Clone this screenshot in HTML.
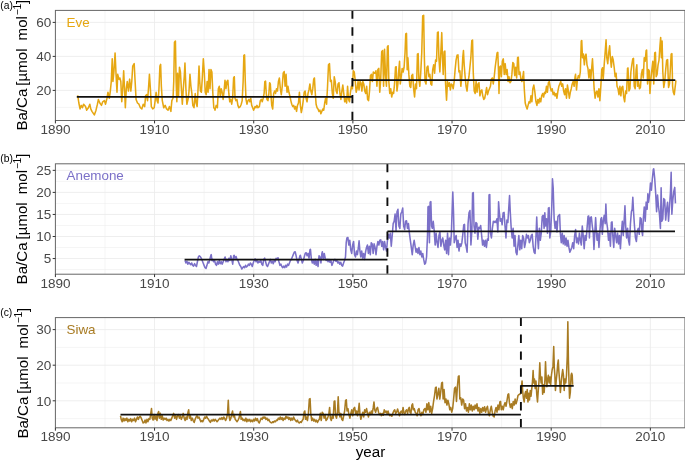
<!DOCTYPE html>
<html><head><meta charset="utf-8"><title>Ba/Ca</title>
<style>html,body{margin:0;padding:0;background:#fff;overflow:hidden}svg{display:block}</style></head>
<body>
<svg width="685" height="461" viewBox="0 0 685 461" font-family="Liberation Sans, Arial, sans-serif">
<rect width="685" height="461" fill="#fff"/>
<clipPath id="cp0"><rect x="55.4" y="10.4" width="629.1" height="110.1"/></clipPath>
<g clip-path="url(#cp0)">
<line x1="55.4" x2="684.5" y1="107.40" y2="107.40" stroke="#ededed" stroke-width="0.55"/>
<line x1="55.4" x2="684.5" y1="73.40" y2="73.40" stroke="#ededed" stroke-width="0.55"/>
<line x1="55.4" x2="684.5" y1="39.40" y2="39.40" stroke="#ededed" stroke-width="0.55"/>
<line x1="104.98" x2="104.98" y1="10.4" y2="120.5" stroke="#ededed" stroke-width="0.55"/>
<line x1="204.14" x2="204.14" y1="10.4" y2="120.5" stroke="#ededed" stroke-width="0.55"/>
<line x1="303.30" x2="303.30" y1="10.4" y2="120.5" stroke="#ededed" stroke-width="0.55"/>
<line x1="402.46" x2="402.46" y1="10.4" y2="120.5" stroke="#ededed" stroke-width="0.55"/>
<line x1="501.62" x2="501.62" y1="10.4" y2="120.5" stroke="#ededed" stroke-width="0.55"/>
<line x1="600.78" x2="600.78" y1="10.4" y2="120.5" stroke="#ededed" stroke-width="0.55"/>
<line x1="55.4" x2="684.5" y1="90.40" y2="90.40" stroke="#ebebeb" stroke-width="0.85"/>
<line x1="55.4" x2="684.5" y1="56.40" y2="56.40" stroke="#ebebeb" stroke-width="0.85"/>
<line x1="55.4" x2="684.5" y1="22.40" y2="22.40" stroke="#ebebeb" stroke-width="0.85"/>
<line x1="55.40" x2="55.40" y1="10.4" y2="120.5" stroke="#ebebeb" stroke-width="0.85"/>
<line x1="154.56" x2="154.56" y1="10.4" y2="120.5" stroke="#ebebeb" stroke-width="0.85"/>
<line x1="253.72" x2="253.72" y1="10.4" y2="120.5" stroke="#ebebeb" stroke-width="0.85"/>
<line x1="352.88" x2="352.88" y1="10.4" y2="120.5" stroke="#ebebeb" stroke-width="0.85"/>
<line x1="452.04" x2="452.04" y1="10.4" y2="120.5" stroke="#ebebeb" stroke-width="0.85"/>
<line x1="551.20" x2="551.20" y1="10.4" y2="120.5" stroke="#ebebeb" stroke-width="0.85"/>
<line x1="650.36" x2="650.36" y1="10.4" y2="120.5" stroke="#ebebeb" stroke-width="0.85"/>
<polyline points="77.65,95.37 78.13,98.23 78.85,103.0 80.04,108.96 81.23,105.38 82.42,107.76 83.61,104.19 85.52,106.57 86.71,110.15 88.38,107.76 89.81,104.19 90.77,108.96 91.96,111.34 94.34,114.92 96.01,110.15 97.44,104.19 98.4,99.42 99.83,103.0 101.5,105.38 102.69,101.8 104.36,100.61 105.55,104.19 106.98,98.23 107.94,92.27 109.37,98.23 110.32,91.07 111.27,81.54 112.23,58.88 112.94,81.54 113.9,72.0 115.09,52.92 116.04,74.38 117.0,92.27 117.71,74.38 118.9,79.15 119.86,77.96 120.81,81.54 121.77,101.8 122.72,88.69 123.67,70.8 124.63,91.07 125.34,107.76 126.3,88.69 127.25,81.54 128.44,91.07 129.63,79.15 130.83,91.07 131.78,81.54 132.73,66.04 134.17,63.65 135.12,81.54 136.07,99.42 137.5,103.0 138.93,104.19 140.37,107.76 141.8,108.96 143.23,104.19 144.66,106.57 145.61,95.84 146.56,94.65 147.52,100.61 148.47,88.69 149.43,74.38 150.38,88.69 151.33,106.57 152.76,108.96 154.2,107.76 155.15,100.61 156.1,92.27 157.06,100.61 158.01,103.0 158.96,88.69 159.92,66.04 160.63,64.37 161.35,86.3 162.3,100.61 163.73,107.76 165.16,105.38 166.59,108.96 168.03,110.15 169.46,106.57 170.89,111.34 171.84,100.61 173.03,98.23 173.75,81.54 174.46,42.19 175.42,41.0 176.13,81.54 176.85,101.8 177.56,73.19 178.52,95.84 179.47,67.23 180.42,72.0 181.38,88.69 182.33,104.19 183.29,88.69 184.24,76.77 184.96,62.94 185.91,88.69 186.86,104.19 188.06,99.42 189.01,91.07 189.96,74.38 190.92,86.3 191.87,93.46 192.82,105.38 194.02,107.76 195.21,93.46 196.16,103.0 197.12,106.57 198.07,88.69 199.02,66.04 199.74,81.54 200.45,91.07 201.41,92.27 202.36,76.77 203.32,58.88 204.27,72.0 205.22,92.27 206.18,94.65 207.13,81.54 208.08,92.27 209.04,69.61 209.99,88.69 210.95,69.61 211.9,72.0 212.85,93.46 213.81,107.76 214.76,108.96 215.0,110.15 216.19,105.38 217.38,107.76 218.34,88.69 219.29,86.3 220.25,95.84 221.2,88.69 222.15,92.27 223.11,99.42 224.06,91.07 225.01,80.34 225.97,88.69 226.92,81.54 227.88,80.34 228.83,93.46 229.78,101.8 230.74,99.42 231.69,104.19 232.65,98.23 233.6,77.96 234.31,76.77 235.03,98.23 235.98,100.61 236.94,99.42 237.89,105.38 238.85,107.76 240.28,106.57 241.23,104.19 242.18,100.61 243.14,81.54 243.85,55.31 244.57,54.83 245.28,81.54 246.0,99.42 246.95,104.19 247.91,100.61 248.86,99.42 249.81,101.8 250.77,98.23 251.72,105.38 252.68,107.76 253.63,110.15 255.06,106.57 256.01,107.76 256.97,105.38 257.92,107.76 259.35,106.57 260.31,100.61 261.26,99.42 262.21,101.8 263.17,98.23 264.12,93.46 264.84,81.54 265.55,81.06 266.27,93.46 266.98,99.42 267.94,100.61 268.89,93.46 269.61,82.73 270.32,83.92 271.04,95.84 271.75,105.38 272.7,108.96 273.66,93.46 274.61,91.07 275.57,93.46 276.52,88.69 277.47,91.07 278.43,81.54 279.38,77.96 280.34,88.69 281.29,94.65 282.24,86.3 283.2,73.19 284.15,71.52 285.1,86.3 286.06,74.38 287.01,92.27 287.97,86.3 288.92,92.27 289.87,95.84 290.83,100.61 291.78,104.19 292.73,106.57 293.69,105.38 294.64,108.96 295.6,106.57 296.55,111.34 297.5,105.38 298.46,103.0 299.41,92.27 300.37,105.38 301.32,112.53 302.27,107.76 303.23,100.61 304.18,92.27 305.13,91.07 306.09,98.23 307.04,101.8 308.0,93.46 308.95,89.88 309.9,83.92 310.86,91.07 311.81,94.65 312.76,88.69 313.72,79.15 314.43,77.96 315.15,91.07 316.1,104.19 317.06,107.76 318.01,108.96 318.96,111.34 319.92,110.15 320.87,113.73 321.83,111.34 322.78,108.96 323.73,110.15 324.69,103.0 325.64,98.23 326.59,104.19 327.55,86.3 328.5,64.84 329.46,63.65 330.41,81.54 331.36,80.34 332.32,93.46 333.27,98.23 334.23,76.77 335.18,81.54 336.13,91.07 337.09,93.46 338.04,83.92 338.99,82.73 339.95,93.46 340.9,99.42 341.86,91.07 342.81,85.11 343.76,93.46 344.72,101.8 345.67,98.23 346.62,103.0 347.58,86.3 348.53,99.42 349.49,101.8 350.44,92.27 351.39,86.3 352.35,88.69 353.3,70.8 354.25,72.0 355.21,80.34 356.16,92.27 357.12,88.69 358.07,81.54 359.02,89.88 359.98,81.54 360.93,82.73 361.89,91.07 362.84,81.54 363.79,83.92 364.75,91.07 365.7,93.46 366.65,86.3 367.61,99.42 368.56,100.61 369.52,91.07 370.47,75.57 371.42,74.38 372.38,81.54 373.33,72.0 374.28,73.19 375.0,73.19 375.95,70.8 376.91,86.3 377.86,69.61 378.82,68.42 379.77,92.27 380.72,79.15 381.68,51.73 382.63,50.54 383.58,86.3 384.54,49.34 385.49,74.38 386.45,86.3 387.4,46.96 388.11,45.77 388.83,81.54 389.78,93.46 390.74,88.69 391.69,97.03 392.65,92.27 393.6,93.46 394.55,83.92 395.51,67.23 396.22,66.75 396.94,91.07 397.89,83.92 398.85,69.61 399.56,61.27 400.28,83.92 401.23,76.77 402.18,68.42 403.14,72.0 404.09,67.23 405.04,52.92 405.76,33.85 406.48,33.37 407.19,69.61 407.91,57.69 408.86,74.38 409.81,86.3 410.77,87.5 411.72,75.57 412.68,74.38 413.63,88.69 414.58,97.03 415.54,83.92 416.49,88.69 417.44,54.11 418.16,53.64 418.87,79.15 419.83,86.3 420.78,72.0 421.74,52.92 422.69,15.96 423.64,15.25 424.36,57.69 425.07,81.54 426.03,83.92 426.98,67.23 427.94,66.04 428.89,76.77 429.84,74.38 430.8,83.92 431.75,85.11 432.7,69.61 433.66,64.84 434.61,73.19 435.57,60.07 436.52,61.27 437.47,32.65 438.19,31.94 438.9,57.69 439.86,72.0 440.81,52.92 441.77,32.65 442.48,57.69 443.2,74.38 444.15,51.73 444.87,51.01 445.58,83.92 446.54,100.13 447.49,81.54 448.44,86.3 449.4,82.73 450.35,89.88 451.3,83.92 452.26,85.11 453.21,88.69 454.17,81.54 455.12,69.61 456.07,60.07 457.03,55.31 457.98,54.83 458.93,72.0 459.89,70.8 460.84,86.3 461.8,76.77 462.75,57.69 463.46,50.54 464.18,64.84 465.13,76.77 466.09,86.3 467.04,91.07 468.0,81.54 468.95,76.77 469.9,67.23 470.86,57.69 471.81,40.52 472.53,40.04 473.24,72.0 474.2,91.07 475.15,93.46 476.1,81.54 477.06,92.27 478.01,83.92 478.96,82.73 479.92,95.84 480.87,91.07 481.83,89.88 482.78,95.84 483.73,99.42 484.69,98.23 485.64,93.46 486.59,87.5 487.55,94.65 488.5,91.07 489.46,88.69 490.41,86.3 491.36,79.15 492.32,77.96 493.27,83.92 494.23,76.77 495.18,67.23 496.13,60.07 497.09,52.92 497.8,52.44 498.52,72.0 498.99,93.46 499.71,67.23 500.42,66.04 501.38,76.77 502.33,61.27 503.29,58.88 504.24,74.38 505.19,63.65 506.15,74.38 507.1,69.61 508.06,81.54 509.01,76.77 509.96,82.73 510.92,81.54 511.87,74.38 512.82,62.46 513.78,63.65 514.73,75.57 515.69,67.23 516.64,77.96 517.59,57.69 518.31,57.21 519.02,74.38 519.98,72.0 520.93,79.15 521.89,81.54 522.84,76.77 523.55,71.52 524.27,88.69 525.22,103.0 526.18,106.57 527.13,108.96 528.08,105.38 529.04,101.8 529.99,103.0 530.95,95.84 531.9,101.8 532.85,88.69 533.81,85.11 534.76,91.07 535.97,101.8 536.92,105.38 537.88,99.42 538.83,103.0 539.78,98.23 540.74,101.8 541.69,95.84 542.65,93.46 543.6,97.03 544.55,92.27 545.51,93.46 546.46,86.3 547.41,92.27 548.37,82.73 549.32,81.54 550.28,87.5 551.23,91.07 552.18,88.69 553.14,94.65 554.09,92.27 555.04,95.84 556.0,93.46 556.95,98.23 557.91,91.07 558.86,86.3 559.81,83.92 560.77,81.54 561.72,86.3 562.68,83.92 563.63,91.07 564.58,94.65 565.54,88.69 566.49,98.23 567.44,85.11 568.4,91.07 569.35,98.23 570.31,92.27 571.26,88.69 572.21,83.92 573.17,81.54 574.12,86.3 575.07,76.77 575.55,74.38 576.51,89.88 577.46,79.15 578.41,75.57 579.37,77.96 580.32,72.0 581.27,41.0 581.75,40.52 582.47,57.69 583.42,54.11 584.37,64.84 585.09,56.5 586.04,54.11 587.0,64.84 587.95,68.42 588.9,77.96 589.86,69.61 590.81,79.15 591.77,67.23 592.48,58.88 593.2,72.0 594.15,88.69 595.1,98.23 596.06,92.27 597.01,91.07 597.97,97.03 598.92,88.69 599.87,100.61 600.83,86.3 601.78,69.61 602.5,67.7 603.21,79.15 604.17,64.84 605.12,52.92 606.07,39.81 606.79,57.69 607.74,63.65 608.7,52.92 609.65,45.77 610.37,57.69 611.32,67.23 612.27,56.5 613.23,60.07 614.18,67.23 615.13,76.77 616.09,73.19 617.04,86.3 618.0,88.69 618.95,94.65 619.9,86.3 620.86,95.84 621.81,87.5 622.76,86.3 623.72,97.03 624.67,101.8 625.63,91.07 626.58,93.46 627.53,68.42 628.01,67.94 628.96,91.07 629.92,88.69 630.87,72.0 631.83,64.84 632.78,58.88 633.49,58.41 634.21,86.3 635.16,88.69 636.12,69.61 636.83,64.84 637.55,86.3 638.5,81.54 639.46,88.69 640.41,87.5 641.36,74.38 642.32,69.61 643.27,77.96 644.23,57.69 645.18,61.27 646.13,50.54 646.61,50.06 647.56,83.92 648.52,69.61 649.23,70.8 649.95,93.46 650.9,79.15 651.86,69.61 652.81,61.27 653.76,83.92 654.72,52.92 655.43,52.44 656.15,76.77 657.1,74.38 658.06,64.84 659.01,60.07 659.96,45.77 660.68,37.42 661.39,57.69 662.11,41.0 662.82,72.0 663.78,87.5 664.73,81.54 665.69,69.61 666.64,60.07 667.59,59.6 668.55,87.5 669.5,83.92 670.45,67.23 671.17,54.11 671.89,53.64 672.6,86.3 673.32,92.27 674.27,94.65 675.22,86.3 675.94,80.34" fill="none" stroke="#E6A712" stroke-width="1.55" stroke-linejoin="round" stroke-linecap="butt"/>
<line x1="76.8" x2="352.4" y1="96.95" y2="96.95" stroke="#111" stroke-width="1.75"/>
<line x1="352.4" x2="675.3" y1="80.2" y2="80.2" stroke="#111" stroke-width="1.75"/>
<line x1="352.4" x2="352.4" y1="10.4" y2="120.5" stroke="#0d0d0d" stroke-width="1.9" stroke-dasharray="8.45 8.45"/>
</g>
<rect x="55.4" y="10.4" width="629.55" height="110.10" fill="none" stroke="#666" stroke-width="1"/>
<line x1="52.70" x2="55.4" y1="90.40" y2="90.40" stroke="#333" stroke-width="1"/>
<text x="51.30" y="95.25" font-size="13.5px" fill="#474747" text-anchor="end">20</text>
<line x1="52.70" x2="55.4" y1="56.40" y2="56.40" stroke="#333" stroke-width="1"/>
<text x="51.30" y="61.25" font-size="13.5px" fill="#474747" text-anchor="end">40</text>
<line x1="52.70" x2="55.4" y1="22.40" y2="22.40" stroke="#333" stroke-width="1"/>
<text x="51.30" y="27.25" font-size="13.5px" fill="#474747" text-anchor="end">60</text>
<line x1="55.40" x2="55.40" y1="120.5" y2="123.4" stroke="#333" stroke-width="1"/>
<text x="55.40" y="133.90" font-size="13.5px" fill="#474747" text-anchor="middle">1890</text>
<line x1="154.56" x2="154.56" y1="120.5" y2="123.4" stroke="#333" stroke-width="1"/>
<text x="154.56" y="133.90" font-size="13.5px" fill="#474747" text-anchor="middle">1910</text>
<line x1="253.72" x2="253.72" y1="120.5" y2="123.4" stroke="#333" stroke-width="1"/>
<text x="253.72" y="133.90" font-size="13.5px" fill="#474747" text-anchor="middle">1930</text>
<line x1="352.88" x2="352.88" y1="120.5" y2="123.4" stroke="#333" stroke-width="1"/>
<text x="352.88" y="133.90" font-size="13.5px" fill="#474747" text-anchor="middle">1950</text>
<line x1="452.04" x2="452.04" y1="120.5" y2="123.4" stroke="#333" stroke-width="1"/>
<text x="452.04" y="133.90" font-size="13.5px" fill="#474747" text-anchor="middle">1970</text>
<line x1="551.20" x2="551.20" y1="120.5" y2="123.4" stroke="#333" stroke-width="1"/>
<text x="551.20" y="133.90" font-size="13.5px" fill="#474747" text-anchor="middle">1990</text>
<line x1="650.36" x2="650.36" y1="120.5" y2="123.4" stroke="#333" stroke-width="1"/>
<text x="650.36" y="133.90" font-size="13.5px" fill="#474747" text-anchor="middle">2010</text>
<text x="66.5" y="26.90" font-size="13.4px" fill="#E6A712">Eve</text>
<text x="0.3" y="8.90" font-size="10.3px" fill="#000">(a)</text>
<g transform="translate(27.10,130.60) rotate(-90)" font-size="15.1px" fill="#000"><text x="0" y="0">Ba/Ca</text><text x="44.9" y="0">[µmol</text><text x="90.2" y="0">mol</text><text x="115.4" y="-5.8" font-size="10.3px">−</text><text x="121" y="-5.8" font-size="10.3px">1</text><text x="126.6" y="0">]</text></g>
<clipPath id="cp1"><rect x="55.4" y="163.8" width="629.1" height="110.39999999999998"/></clipPath>
<g clip-path="url(#cp1)">
<line x1="55.4" x2="684.5" y1="269.58" y2="269.58" stroke="#ededed" stroke-width="0.55"/>
<line x1="55.4" x2="684.5" y1="247.53" y2="247.53" stroke="#ededed" stroke-width="0.55"/>
<line x1="55.4" x2="684.5" y1="225.48" y2="225.48" stroke="#ededed" stroke-width="0.55"/>
<line x1="55.4" x2="684.5" y1="203.43" y2="203.43" stroke="#ededed" stroke-width="0.55"/>
<line x1="55.4" x2="684.5" y1="181.38" y2="181.38" stroke="#ededed" stroke-width="0.55"/>
<line x1="104.98" x2="104.98" y1="163.8" y2="274.2" stroke="#ededed" stroke-width="0.55"/>
<line x1="204.14" x2="204.14" y1="163.8" y2="274.2" stroke="#ededed" stroke-width="0.55"/>
<line x1="303.30" x2="303.30" y1="163.8" y2="274.2" stroke="#ededed" stroke-width="0.55"/>
<line x1="402.46" x2="402.46" y1="163.8" y2="274.2" stroke="#ededed" stroke-width="0.55"/>
<line x1="501.62" x2="501.62" y1="163.8" y2="274.2" stroke="#ededed" stroke-width="0.55"/>
<line x1="600.78" x2="600.78" y1="163.8" y2="274.2" stroke="#ededed" stroke-width="0.55"/>
<line x1="55.4" x2="684.5" y1="258.55" y2="258.55" stroke="#ebebeb" stroke-width="0.85"/>
<line x1="55.4" x2="684.5" y1="236.50" y2="236.50" stroke="#ebebeb" stroke-width="0.85"/>
<line x1="55.4" x2="684.5" y1="214.45" y2="214.45" stroke="#ebebeb" stroke-width="0.85"/>
<line x1="55.4" x2="684.5" y1="192.40" y2="192.40" stroke="#ebebeb" stroke-width="0.85"/>
<line x1="55.4" x2="684.5" y1="170.35" y2="170.35" stroke="#ebebeb" stroke-width="0.85"/>
<line x1="55.40" x2="55.40" y1="163.8" y2="274.2" stroke="#ebebeb" stroke-width="0.85"/>
<line x1="154.56" x2="154.56" y1="163.8" y2="274.2" stroke="#ebebeb" stroke-width="0.85"/>
<line x1="253.72" x2="253.72" y1="163.8" y2="274.2" stroke="#ebebeb" stroke-width="0.85"/>
<line x1="352.88" x2="352.88" y1="163.8" y2="274.2" stroke="#ebebeb" stroke-width="0.85"/>
<line x1="452.04" x2="452.04" y1="163.8" y2="274.2" stroke="#ebebeb" stroke-width="0.85"/>
<line x1="551.20" x2="551.20" y1="163.8" y2="274.2" stroke="#ebebeb" stroke-width="0.85"/>
<line x1="650.36" x2="650.36" y1="163.8" y2="274.2" stroke="#ebebeb" stroke-width="0.85"/>
<polyline points="185.01,260.57 185.97,262.96 186.92,261.29 187.88,264.15 188.83,262.24 189.78,263.67 190.74,264.63 191.69,262.96 192.65,265.34 193.6,266.06 194.55,263.67 195.51,265.34 196.46,266.53 197.41,261.76 198.37,257.0 199.32,255.8 200.28,256.52 201.23,258.19 202.18,260.57 203.14,262.96 204.09,265.34 205.04,267.73 206.0,268.44 206.95,265.34 207.91,261.76 208.86,262.96 209.81,259.38 210.77,255.8 211.24,254.61 211.96,260.57 212.68,259.38 213.63,261.76 214.58,260.57 215.54,264.15 216.49,265.34 217.44,261.76 218.4,264.15 219.35,260.57 220.31,263.67 221.26,261.76 222.21,264.15 223.17,261.76 224.12,259.38 225.07,257.0 226.03,261.76 226.98,259.38 227.94,261.76 228.89,258.19 229.84,260.57 230.8,255.8 231.75,259.38 232.7,264.15 233.66,255.8 234.14,255.33 235.09,258.19 236.04,256.52 237.0,259.38 237.95,260.57 238.9,262.96 239.86,265.34 240.81,266.53 241.77,268.92 242.72,267.73 243.67,266.53 244.63,267.73 245.58,265.34 246.54,267.01 247.49,266.06 248.44,264.15 249.4,265.34 250.35,262.96 251.3,264.15 252.26,266.53 253.21,262.96 254.17,260.57 255.12,258.9 256.07,261.76 257.03,260.57 257.98,262.96 258.93,261.29 259.89,262.24 260.84,260.57 261.8,264.15 262.75,265.34 263.7,259.38 264.66,258.19 265.61,261.76 266.56,265.34 267.52,266.53 268.47,264.15 269.43,261.76 270.38,259.38 271.33,262.96 272.29,261.29 273.24,263.67 274.2,260.57 275.15,261.76 276.1,258.19 277.06,259.38 278.01,257.71 278.96,261.76 279.92,265.34 280.87,264.15 281.83,266.53 282.78,267.73 283.73,266.06 284.69,267.73 285.64,265.34 286.59,267.01 287.55,264.15 288.5,265.34 289.46,262.96 290.41,260.57 291.36,259.38 292.32,257.0 293.27,254.61 294.23,252.23 295.18,251.75 296.13,255.8 297.09,260.57 298.04,262.96 298.99,259.38 299.95,255.8 300.42,255.33 301.38,259.38 302.33,262.96 303.29,260.57 304.24,257.0 305.19,253.42 306.15,252.7 307.1,255.8 308.06,253.42 309.01,258.19 309.96,249.84 310.44,249.37 311.39,259.38 312.35,262.96 313.3,260.57 314.25,264.15 315.21,259.38 316.16,265.34 317.12,260.57 318.07,266.53 319.02,255.8 319.98,257.0 320.93,262.96 321.89,253.42 322.36,251.75 323.32,259.38 324.27,253.42 325.22,258.19 326.18,260.57 327.13,259.38 328.08,261.76 329.04,259.38 329.99,262.24 330.95,260.57 331.9,265.34 332.85,262.96 333.81,260.57 334.76,259.38 335.0,259.38 335.95,261.29 336.91,260.57 337.86,262.96 338.82,261.76 339.77,264.15 340.72,262.24 341.68,265.34 342.63,266.06 343.58,262.96 344.54,260.57 345.49,257.0 346.21,242.69 346.92,237.92 347.88,237.44 348.83,245.07 349.78,240.3 350.74,249.84 351.69,253.42 352.65,245.07 353.6,241.5 354.55,254.61 355.51,257.0 356.46,251.03 357.41,254.61 358.37,247.46 359.08,240.78 359.8,249.84 360.75,257.0 361.71,251.03 362.66,258.19 363.61,253.42 364.57,259.38 365.52,252.23 366.48,247.46 367.43,245.07 368.38,253.42 369.34,246.27 370.29,254.61 371.24,242.69 372.2,243.88 373.15,253.42 374.11,243.88 375.06,247.46 376.01,254.61 376.97,246.27 377.92,241.5 378.87,245.07 379.83,240.3 380.78,239.83 381.74,246.27 382.69,241.5 383.64,249.84 384.6,241.5 385.55,247.46 386.51,251.03 387.46,240.3 388.41,234.34 389.37,237.92 390.32,233.15 391.27,246.27 392.23,235.54 393.18,223.61 394.14,221.23 395.09,214.07 396.04,230.77 397.0,211.69 397.95,209.31 398.9,226.0 399.86,228.38 400.81,214.07 401.77,211.69 402.72,208.11 403.67,226.0 404.63,229.57 405.58,221.23 406.54,220.75 407.49,228.38 408.44,223.61 409.4,233.15 410.35,240.3 411.3,247.46 412.26,254.61 413.21,245.07 414.17,240.3 415.12,246.27 416.07,252.23 417.03,248.65 417.98,253.42 418.93,247.46 419.89,254.61 420.84,251.03 421.8,257.0 422.75,253.42 423.7,259.38 424.66,264.15 425.61,262.96 426.56,257.0 427.52,235.54 428.0,206.92 428.71,206.44 429.43,242.69 430.14,202.15 430.86,201.68 431.57,226.0 432.29,228.38 433.24,221.23 434.2,230.77 435.15,245.07 436.1,233.15 437.06,242.69 438.01,247.46 438.96,235.54 439.92,231.96 440.87,246.27 441.83,240.3 442.78,237.92 443.73,245.07 444.69,249.84 445.64,240.3 446.59,253.42 447.55,233.15 448.5,254.61 449.46,237.92 450.41,245.07 451.36,234.34 452.08,211.69 452.79,192.14 453.51,211.69 454.23,242.69 455.18,237.92 456.13,235.54 457.09,247.46 458.04,240.3 458.99,251.03 459.95,243.88 460.9,246.27 461.86,242.69 462.81,234.34 463.76,224.8 464.48,224.33 465.19,242.69 466.15,246.27 467.1,252.23 468.06,223.61 469.01,212.88 469.96,210.5 470.92,245.07 471.87,230.77 472.59,193.09 473.3,192.61 474.02,226.0 474.97,233.15 475.92,222.42 476.88,223.61 477.83,239.11 478.79,227.19 479.74,228.38 480.69,225.52 481.65,235.54 482.6,245.07 483.55,240.3 484.51,246.27 485.46,240.3 486.42,247.46 487.37,239.11 488.32,240.3 489.04,195.0 489.75,194.52 490.47,233.15 491.42,237.92 492.38,228.38 493.33,221.23 494.28,222.42 495.0,221.23 495.95,222.42 496.91,218.84 497.86,231.96 498.58,201.68 499.29,211.69 500.25,221.23 501.2,218.84 502.15,224.8 503.11,212.88 504.06,212.41 505.01,226.0 505.97,237.92 506.92,220.04 507.88,222.42 508.83,206.92 509.55,195.48 510.26,211.69 511.21,228.38 512.17,237.92 513.12,228.38 514.08,246.27 515.03,235.54 515.98,252.23 516.94,254.61 517.89,245.07 518.85,235.54 519.8,249.84 520.75,240.3 521.71,248.65 522.66,235.54 523.61,237.92 524.57,247.46 525.52,242.69 526.48,234.34 527.43,237.92 528.38,235.54 529.34,242.69 530.29,240.3 531.24,235.54 532.2,234.34 533.15,246.27 534.11,252.23 535.06,253.42 536.01,235.54 536.73,216.94 537.44,235.54 538.4,248.65 539.35,228.38 540.31,240.3 541.26,233.15 542.21,216.46 543.17,215.27 544.12,228.38 544.84,212.88 545.55,226.0 546.51,218.84 547.46,233.15 548.41,208.11 549.13,207.64 549.84,237.92 550.8,230.77 551.75,206.92 552.47,178.78 553.18,187.85 554.14,218.84 555.09,228.38 556.04,221.23 557.0,231.96 557.95,216.46 558.9,215.27 559.62,214.55 560.34,233.15 561.29,242.69 562.24,233.15 563.2,243.88 564.15,235.54 565.1,245.07 566.06,237.92 567.01,246.27 567.97,240.3 568.92,247.46 569.87,252.23 570.83,249.84 571.78,247.46 572.73,242.69 573.69,248.65 574.64,235.54 575.6,229.57 576.55,242.69 577.5,237.92 578.46,243.88 579.41,233.15 580.37,240.3 581.32,245.07 582.27,226.0 583.23,235.54 584.18,248.65 585.13,235.54 586.09,240.3 587.04,228.38 588.0,216.46 588.71,215.98 589.43,237.92 590.38,217.65 591.33,216.94 592.29,226.0 593.24,233.15 593.96,249.37 594.67,235.54 595.63,217.65 596.34,230.77 597.06,240.3 598.01,233.15 598.96,247.46 599.92,230.77 600.87,218.84 601.59,217.65 602.3,234.34 603.26,221.23 604.21,215.27 605.16,223.61 605.88,204.06 606.59,221.23 607.55,228.38 608.5,240.3 609.46,233.15 610.41,246.27 611.36,222.42 612.08,221.94 612.79,235.54 613.75,247.46 614.7,228.38 615.66,235.54 616.61,242.69 617.56,233.15 618.52,243.88 619.47,235.54 620.42,248.65 621.38,233.15 622.33,221.23 623.29,235.54 624.24,218.84 624.96,205.73 625.67,226.0 626.62,237.92 627.58,228.38 628.53,240.3 629.49,245.07 630.44,223.61 631.39,211.69 632.11,209.31 632.82,197.38 633.54,211.69 634.49,226.0 635.45,237.92 636.4,241.5 637.35,230.77 638.31,228.38 639.26,234.34 640.22,217.65 641.17,218.84 641.89,230.77 642.6,235.54 643.32,218.84 644.27,206.92 645.22,221.23 646.18,202.15 647.13,209.31 647.85,193.81 648.56,202.15 649.52,195.0 650.47,183.08 651.42,190.23 652.38,178.31 653.33,169.25 653.74,168.77 654.69,178.32 655.64,192.64 656.6,211.73 657.55,195.03 658.51,206.96 659.46,214.12 660.42,228.44 661.13,187.87 661.85,221.28 662.8,218.89 663.76,198.61 664.71,199.8 665.67,220.09 666.62,209.35 667.58,202.19 668.53,221.28 669.49,206.96 670.44,192.64 671.16,172.35 671.87,214.12 672.83,199.8 673.78,191.45 674.74,187.39 675.45,203.38" fill="none" stroke="#7B70C8" stroke-width="1.55" stroke-linejoin="round" stroke-linecap="butt"/>
<line x1="184.6" x2="387.4" y1="259.5" y2="259.5" stroke="#111" stroke-width="1.75"/>
<line x1="387.4" x2="675" y1="231.3" y2="231.3" stroke="#111" stroke-width="1.75"/>
<line x1="387.4" x2="387.4" y1="163.8" y2="274.2" stroke="#0d0d0d" stroke-width="1.9" stroke-dasharray="8.45 8.45"/>
</g>
<rect x="55.4" y="163.8" width="629.55" height="110.40" fill="none" stroke="#666" stroke-width="1"/>
<line x1="52.70" x2="55.4" y1="258.55" y2="258.55" stroke="#333" stroke-width="1"/>
<text x="51.30" y="263.40" font-size="13.5px" fill="#474747" text-anchor="end">5</text>
<line x1="52.70" x2="55.4" y1="236.50" y2="236.50" stroke="#333" stroke-width="1"/>
<text x="51.30" y="241.35" font-size="13.5px" fill="#474747" text-anchor="end">10</text>
<line x1="52.70" x2="55.4" y1="214.45" y2="214.45" stroke="#333" stroke-width="1"/>
<text x="51.30" y="219.30" font-size="13.5px" fill="#474747" text-anchor="end">15</text>
<line x1="52.70" x2="55.4" y1="192.40" y2="192.40" stroke="#333" stroke-width="1"/>
<text x="51.30" y="197.25" font-size="13.5px" fill="#474747" text-anchor="end">20</text>
<line x1="52.70" x2="55.4" y1="170.35" y2="170.35" stroke="#333" stroke-width="1"/>
<text x="51.30" y="175.20" font-size="13.5px" fill="#474747" text-anchor="end">25</text>
<line x1="55.40" x2="55.40" y1="274.2" y2="277.09999999999997" stroke="#333" stroke-width="1"/>
<text x="55.40" y="287.60" font-size="13.5px" fill="#474747" text-anchor="middle">1890</text>
<line x1="154.56" x2="154.56" y1="274.2" y2="277.09999999999997" stroke="#333" stroke-width="1"/>
<text x="154.56" y="287.60" font-size="13.5px" fill="#474747" text-anchor="middle">1910</text>
<line x1="253.72" x2="253.72" y1="274.2" y2="277.09999999999997" stroke="#333" stroke-width="1"/>
<text x="253.72" y="287.60" font-size="13.5px" fill="#474747" text-anchor="middle">1930</text>
<line x1="352.88" x2="352.88" y1="274.2" y2="277.09999999999997" stroke="#333" stroke-width="1"/>
<text x="352.88" y="287.60" font-size="13.5px" fill="#474747" text-anchor="middle">1950</text>
<line x1="452.04" x2="452.04" y1="274.2" y2="277.09999999999997" stroke="#333" stroke-width="1"/>
<text x="452.04" y="287.60" font-size="13.5px" fill="#474747" text-anchor="middle">1970</text>
<line x1="551.20" x2="551.20" y1="274.2" y2="277.09999999999997" stroke="#333" stroke-width="1"/>
<text x="551.20" y="287.60" font-size="13.5px" fill="#474747" text-anchor="middle">1990</text>
<line x1="650.36" x2="650.36" y1="274.2" y2="277.09999999999997" stroke="#333" stroke-width="1"/>
<text x="650.36" y="287.60" font-size="13.5px" fill="#474747" text-anchor="middle">2010</text>
<text x="66.5" y="180.30" font-size="13.4px" fill="#7B70C8">Anemone</text>
<text x="0.3" y="162.30" font-size="10.3px" fill="#000">(b)</text>
<g transform="translate(27.10,284.40) rotate(-90)" font-size="15.1px" fill="#000"><text x="0" y="0">Ba/Ca</text><text x="44.9" y="0">[µmol</text><text x="90.2" y="0">mol</text><text x="115.4" y="-5.8" font-size="10.3px">−</text><text x="121" y="-5.8" font-size="10.3px">1</text><text x="126.6" y="0">]</text></g>
<clipPath id="cp2"><rect x="55.4" y="317.6" width="629.1" height="110.19999999999999"/></clipPath>
<g clip-path="url(#cp2)">
<line x1="55.4" x2="684.5" y1="418.60" y2="418.60" stroke="#ededed" stroke-width="0.55"/>
<line x1="55.4" x2="684.5" y1="383.00" y2="383.00" stroke="#ededed" stroke-width="0.55"/>
<line x1="55.4" x2="684.5" y1="347.40" y2="347.40" stroke="#ededed" stroke-width="0.55"/>
<line x1="104.98" x2="104.98" y1="317.6" y2="427.8" stroke="#ededed" stroke-width="0.55"/>
<line x1="204.14" x2="204.14" y1="317.6" y2="427.8" stroke="#ededed" stroke-width="0.55"/>
<line x1="303.30" x2="303.30" y1="317.6" y2="427.8" stroke="#ededed" stroke-width="0.55"/>
<line x1="402.46" x2="402.46" y1="317.6" y2="427.8" stroke="#ededed" stroke-width="0.55"/>
<line x1="501.62" x2="501.62" y1="317.6" y2="427.8" stroke="#ededed" stroke-width="0.55"/>
<line x1="600.78" x2="600.78" y1="317.6" y2="427.8" stroke="#ededed" stroke-width="0.55"/>
<line x1="55.4" x2="684.5" y1="400.80" y2="400.80" stroke="#ebebeb" stroke-width="0.85"/>
<line x1="55.4" x2="684.5" y1="365.20" y2="365.20" stroke="#ebebeb" stroke-width="0.85"/>
<line x1="55.4" x2="684.5" y1="329.60" y2="329.60" stroke="#ebebeb" stroke-width="0.85"/>
<line x1="55.40" x2="55.40" y1="317.6" y2="427.8" stroke="#ebebeb" stroke-width="0.85"/>
<line x1="154.56" x2="154.56" y1="317.6" y2="427.8" stroke="#ebebeb" stroke-width="0.85"/>
<line x1="253.72" x2="253.72" y1="317.6" y2="427.8" stroke="#ebebeb" stroke-width="0.85"/>
<line x1="352.88" x2="352.88" y1="317.6" y2="427.8" stroke="#ebebeb" stroke-width="0.85"/>
<line x1="452.04" x2="452.04" y1="317.6" y2="427.8" stroke="#ebebeb" stroke-width="0.85"/>
<line x1="551.20" x2="551.20" y1="317.6" y2="427.8" stroke="#ebebeb" stroke-width="0.85"/>
<line x1="650.36" x2="650.36" y1="317.6" y2="427.8" stroke="#ebebeb" stroke-width="0.85"/>
<polyline points="120.5,415.76 121.21,419.34 122.17,421.73 123.12,418.15 124.08,421.01 125.03,418.63 125.98,420.53 126.94,418.15 127.89,421.73 128.85,419.34 129.8,421.01 130.75,418.63 131.71,421.73 132.66,419.34 133.61,420.53 134.57,418.15 135.52,421.73 136.48,419.34 137.43,416.96 138.38,419.34 139.34,416.96 140.29,416.24 141.24,418.15 142.2,420.53 143.15,422.92 144.11,422.44 145.06,420.06 146.01,422.92 146.97,419.34 147.92,421.73 148.87,418.63 149.83,419.34 150.78,413.38 151.5,408.61 152.21,418.15 153.17,420.06 154.12,414.57 155.07,419.34 156.03,415.76 156.98,420.53 157.94,413.38 158.65,411.47 159.37,418.15 160.32,413.38 161.27,419.34 162.23,415.76 163.18,420.06 164.14,418.15 165.09,419.34 166.04,418.15 167.0,420.53 167.95,419.34 168.9,421.01 169.86,419.34 170.81,420.53 171.77,418.15 172.72,415.76 173.67,413.38 174.63,418.15 175.58,415.76 176.54,419.34 177.49,415.76 178.44,414.57 179.4,418.15 180.35,415.76 181.3,419.34 182.26,416.96 183.21,413.38 184.17,418.15 185.12,420.53 186.07,416.96 187.03,419.34 187.98,412.19 188.7,409.8 189.41,418.15 190.37,415.76 191.32,420.53 192.27,418.15 193.23,420.53 194.18,422.44 195.13,419.34 196.09,416.96 197.04,415.76 198.0,418.15 198.95,416.96 199.9,419.34 200.86,421.73 201.81,420.53 202.76,421.73 203.72,419.34 204.67,416.96 205.63,418.15 206.58,416.24 207.53,418.15 208.49,419.34 209.44,421.01 210.39,422.44 211.35,420.06 212.3,421.01 213.26,419.34 214.21,421.01 215.16,419.34 216.12,420.53 217.07,421.73 218.03,420.53 218.98,419.34 219.93,418.15 220.89,419.34 221.84,417.67 222.79,419.34 223.75,416.96 224.7,418.63 225.66,420.53 226.61,418.15 227.56,413.38 228.28,400.27 228.99,415.76 229.95,420.53 230.9,418.15 231.86,413.38 232.57,411.0 233.29,416.96 234.24,414.57 235.19,419.34 236.15,420.53 237.1,421.73 238.06,420.06 239.01,418.15 239.96,413.38 240.44,411.47 241.15,419.34 242.11,418.15 243.06,420.53 244.02,419.34 244.97,421.01 245.92,418.15 246.88,421.73 247.83,419.34 248.79,421.01 249.74,419.34 250.69,421.73 251.65,420.06 252.6,421.73 253.55,419.34 254.51,421.01 255.46,418.15 256.42,420.53 257.37,418.63 258.32,421.73 259.28,422.92 260.23,420.53 261.18,418.15 262.14,419.34 263.09,416.96 264.05,418.15 264.76,416.96 265.0,416.96 265.95,419.34 266.91,418.15 267.86,420.53 268.82,419.34 269.77,421.73 270.72,422.44 271.68,422.92 272.63,421.73 273.58,422.44 274.54,421.01 275.49,421.73 276.45,420.06 277.4,420.53 278.35,418.15 279.31,419.34 280.26,416.96 281.21,419.34 282.17,417.67 283.12,420.53 284.08,418.15 285.03,419.34 285.98,416.24 286.94,418.15 287.89,416.96 288.85,419.34 289.8,417.67 290.75,420.53 291.71,418.15 292.66,420.06 293.61,416.96 294.57,419.34 295.52,420.53 296.48,421.73 297.43,420.06 298.38,422.44 299.34,422.92 300.29,421.73 301.24,422.44 302.2,420.53 303.15,419.34 304.11,412.19 304.82,411.0 305.54,419.34 306.49,416.96 307.44,420.53 308.4,413.38 309.35,399.07 310.07,398.6 310.78,413.38 311.74,420.53 312.69,418.15 313.64,421.01 314.6,419.34 315.55,421.73 316.51,420.06 317.46,422.44 318.41,420.53 319.37,419.34 320.32,413.38 321.27,420.53 322.23,412.19 323.18,413.38 324.14,418.15 325.09,414.57 326.04,420.53 327.0,419.34 327.95,416.96 328.9,413.38 329.62,407.42 330.34,418.15 331.29,420.53 332.24,415.76 333.2,418.15 334.15,401.46 334.87,400.98 335.58,415.76 336.54,418.15 337.49,412.19 338.2,396.69 338.92,412.19 339.87,416.96 340.83,413.38 341.78,419.34 342.73,420.53 343.69,415.76 344.64,411.0 345.6,400.27 346.31,399.79 347.03,411.0 347.98,408.61 348.93,414.57 349.89,418.15 350.84,413.38 351.8,409.8 352.75,415.76 353.7,408.61 354.66,407.42 355.61,413.38 356.56,411.0 357.52,415.76 358.47,409.8 359.19,403.37 359.9,413.38 360.86,419.34 361.81,415.76 362.76,412.19 363.72,416.96 364.67,409.8 365.63,412.19 366.58,408.61 367.53,413.38 368.49,416.96 369.44,412.19 370.39,414.57 371.35,411.0 372.3,413.38 373.26,407.42 373.97,401.93 374.69,409.8 375.64,412.19 376.59,408.61 377.55,407.42 378.5,412.19 379.46,414.57 380.41,413.38 381.36,415.76 382.32,413.38 383.27,415.29 384.23,409.8 385.18,412.19 386.13,411.0 387.09,413.38 388.04,411.0 388.99,414.57 389.95,415.76 390.9,414.57 391.86,416.24 392.81,413.38 393.76,411.0 394.72,409.8 395.67,413.38 396.62,412.19 397.58,409.09 398.53,412.19 399.49,415.76 400.44,412.19 401.39,411.0 402.35,413.38 403.06,407.42 403.78,412.19 404.73,414.57 405.69,411.0 406.64,409.8 407.59,413.38 408.55,408.61 409.26,407.42 409.98,412.19 410.93,413.38 411.89,405.03 412.6,403.84 413.32,409.8 414.27,408.61 415.22,412.19 416.18,413.38 417.13,415.76 418.08,409.8 419.04,408.61 419.99,413.38 420.95,415.76 421.9,412.19 422.85,414.57 423.81,409.8 424.76,408.61 425.0,408.61 425.95,412.19 426.91,403.84 427.86,409.8 428.82,402.65 429.77,412.19 430.72,406.23 431.68,413.38 432.63,408.61 433.58,401.46 434.54,395.5 435.49,387.63 436.21,387.15 436.92,399.07 437.88,394.3 438.83,388.34 439.78,399.07 440.74,391.92 441.69,382.86 442.41,382.38 443.12,399.07 444.08,389.54 445.03,402.65 445.98,399.07 446.94,405.03 447.89,400.27 448.85,403.84 449.8,409.8 450.75,407.42 451.71,412.19 452.66,408.61 453.61,399.07 454.57,388.34 455.52,387.15 456.48,401.46 457.43,385.96 458.38,376.42 459.1,375.94 459.81,399.07 460.77,397.88 461.72,405.03 462.68,399.07 463.63,400.27 464.58,408.61 465.54,403.84 466.49,411.0 467.44,407.42 468.4,412.19 469.35,403.84 470.31,409.8 471.26,405.03 472.21,411.0 473.17,406.23 474.12,409.8 475.07,405.03 476.03,408.61 476.98,403.84 477.94,411.0 478.89,407.42 479.84,413.38 480.8,408.61 481.75,412.19 482.7,407.42 483.66,411.0 484.61,406.7 485.57,412.19 486.52,408.61 487.47,406.23 488.43,413.38 489.38,415.76 490.34,409.8 491.29,406.23 492.24,412.19 493.2,416.24 494.15,416.96 495.1,411.0 496.06,407.42 497.01,412.19 497.97,405.03 498.92,409.8 499.87,401.93 500.59,401.46 501.3,409.8 502.26,406.23 503.21,409.8 504.17,405.03 505.12,402.65 506.07,406.23 507.03,400.27 507.98,394.3 508.7,393.83 509.41,402.65 510.37,407.42 511.32,403.84 512.27,408.61 513.23,401.46 514.18,405.03 515.13,399.07 516.09,403.84 517.04,400.27 518.0,395.5 518.71,394.78 519.77,394.3 520.72,393.35 521.49,386.67 522.06,380.95 522.63,390.49 523.39,398.12 524.16,401.93 524.92,394.3 525.68,391.44 526.45,398.12 527.21,389.53 527.97,401.93 528.73,393.35 529.5,400.02 530.26,390.49 531.02,396.21 531.79,388.58 532.55,380.95 533.12,370.46 533.69,382.86 534.46,379.04 535.22,388.58 535.98,380.95 536.75,394.3 537.51,401.93 538.27,390.49 539.03,380.95 539.8,362.83 540.37,375.23 541.13,382.86 541.9,377.13 542.66,394.3 543.42,384.76 544.18,392.39 544.95,379.04 545.52,361.87 546.09,375.23 546.86,386.67 547.62,379.04 548.38,375.23 549.14,382.86 549.91,377.13 550.67,384.76 551.43,375.23 552.2,369.5 552.96,366.64 553.72,346.61 554.29,367.6 554.87,375.23 555.44,390.49 556.2,380.95 556.97,373.32 557.73,363.78 558.3,359.97 558.87,371.41 559.64,380.95 560.4,392.39 561.16,382.86 561.92,375.23 562.69,369.5 563.45,375.23 564.21,390.49 564.98,379.04 565.74,382.86 566.5,375.23 567.27,356.15 567.84,321.82 568.41,359.97 568.98,380.95 569.55,398.12 570.32,392.39 571.08,375.23 571.65,373.32 572.23,375.23 572.61,384.76" fill="none" stroke="#A87B22" stroke-width="1.55" stroke-linejoin="round" stroke-linecap="butt"/>
<line x1="120.5" x2="520.9" y1="414.7" y2="414.7" stroke="#111" stroke-width="1.75"/>
<line x1="520.9" x2="573.7" y1="385.8" y2="385.8" stroke="#111" stroke-width="1.75"/>
<line x1="520.9" x2="520.9" y1="317.6" y2="427.8" stroke="#0d0d0d" stroke-width="1.9" stroke-dasharray="8.45 8.45"/>
</g>
<rect x="55.4" y="317.6" width="629.55" height="110.20" fill="none" stroke="#666" stroke-width="1"/>
<line x1="52.70" x2="55.4" y1="400.80" y2="400.80" stroke="#333" stroke-width="1"/>
<text x="51.30" y="405.65" font-size="13.5px" fill="#474747" text-anchor="end">10</text>
<line x1="52.70" x2="55.4" y1="365.20" y2="365.20" stroke="#333" stroke-width="1"/>
<text x="51.30" y="370.05" font-size="13.5px" fill="#474747" text-anchor="end">20</text>
<line x1="52.70" x2="55.4" y1="329.60" y2="329.60" stroke="#333" stroke-width="1"/>
<text x="51.30" y="334.45" font-size="13.5px" fill="#474747" text-anchor="end">30</text>
<line x1="55.40" x2="55.40" y1="427.8" y2="430.7" stroke="#333" stroke-width="1"/>
<text x="55.40" y="441.20" font-size="13.5px" fill="#474747" text-anchor="middle">1890</text>
<line x1="154.56" x2="154.56" y1="427.8" y2="430.7" stroke="#333" stroke-width="1"/>
<text x="154.56" y="441.20" font-size="13.5px" fill="#474747" text-anchor="middle">1910</text>
<line x1="253.72" x2="253.72" y1="427.8" y2="430.7" stroke="#333" stroke-width="1"/>
<text x="253.72" y="441.20" font-size="13.5px" fill="#474747" text-anchor="middle">1930</text>
<line x1="352.88" x2="352.88" y1="427.8" y2="430.7" stroke="#333" stroke-width="1"/>
<text x="352.88" y="441.20" font-size="13.5px" fill="#474747" text-anchor="middle">1950</text>
<line x1="452.04" x2="452.04" y1="427.8" y2="430.7" stroke="#333" stroke-width="1"/>
<text x="452.04" y="441.20" font-size="13.5px" fill="#474747" text-anchor="middle">1970</text>
<line x1="551.20" x2="551.20" y1="427.8" y2="430.7" stroke="#333" stroke-width="1"/>
<text x="551.20" y="441.20" font-size="13.5px" fill="#474747" text-anchor="middle">1990</text>
<line x1="650.36" x2="650.36" y1="427.8" y2="430.7" stroke="#333" stroke-width="1"/>
<text x="650.36" y="441.20" font-size="13.5px" fill="#474747" text-anchor="middle">2010</text>
<text x="66.5" y="334.10" font-size="13.4px" fill="#A87B22">Siwa</text>
<text x="0.3" y="316.10" font-size="10.3px" fill="#000">(c)</text>
<g transform="translate(27.90,438.60) rotate(-90)" font-size="15.1px" fill="#000"><text x="0" y="0">Ba/Ca</text><text x="44.9" y="0">[µmol</text><text x="90.2" y="0">mol</text><text x="115.4" y="-5.8" font-size="10.3px">−</text><text x="121" y="-5.8" font-size="10.3px">1</text><text x="126.6" y="0">]</text></g>
<text x="370.55" y="457.1" font-size="15.2px" fill="#000" text-anchor="middle">year</text>
</svg>
</body></html>
